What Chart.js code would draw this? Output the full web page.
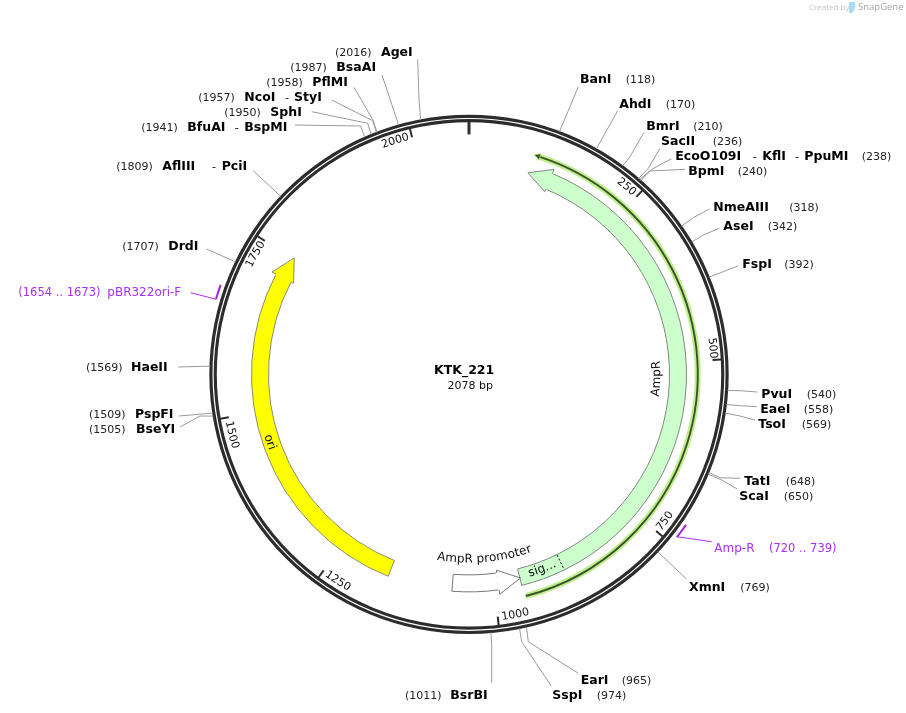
<!DOCTYPE html>
<html>
<head>
<meta charset="utf-8">
<style>html,body{margin:0;padding:0;background:#fff}canvas{display:block}</style>
<script src="https://cdn.jsdelivr.net/npm/chart.js@4/dist/chart.umd.min.js"></script>
</head>
<body>
<canvas id="c" width="906" height="713"></canvas>
<script>
// ---- plasmid data (base pairs) ----
const plasmidName = "KTK_221";
const plasmidLength = 2078;
const tickPositions = [0, 250, 500, 750, 1000, 1250, 1500, 1750, 2000];
const tickLabelCentres = [null, 231, 484, 732, 976, 1226, 1476, 1728, 1977];

// feature ring, consecutive segments in bp
const segmentNames = ["", "AmpR", "sig...", "", "AmpR promoter", "", "ori", ""];
const segmentLengths = [130, 759, 69, 35, 72, 100, 552, 361];
const segmentColours = ["transparent", "#ccffcc", "#ccffcc", "transparent", "#ffffff", "transparent", "#ffff00", "transparent"];
const segmentEdges = ["transparent", "#858585", "#858585", "transparent", "#777777", "transparent", "#8a8a7a", "transparent"];

// long thin feature (gap, length, rest)
const thinFeature = [103, 853, 1122];
// primers (gap, Amp-R, gap, pBR322ori-F, rest)
const primerSegments = [720, 19, 915, 19, 405];

const siteNames = [
  ["BanI"], ["AhdI"], ["BmrI"], ["SacII"], ["EcoO109I", "-", "KflI", "-", "PpuMI"], ["BpmI"],
  ["NmeAIII"], ["AseI"], ["FspI"], ["PvuI"], ["EaeI"], ["TsoI"], ["TatI"], ["ScaI"], ["XmnI"],
  ["EarI"], ["SspI"], ["BsrBI"], ["BseYI"], ["PspFI"], ["HaeII"], ["DrdI"], ["AflIII", "-", "PciI"],
  ["BfuAI", "-", "BspMI"], ["SphI"], ["NcoI", "-", "StyI"], ["PflMI"], ["BsaAI"], ["AgeI"]
];
const sitePositions = [118, 170, 210, 236, 238, 240, 318, 342, 392, 540, 558, 569, 648, 650, 769,
  965, 974, 1011, 1505, 1509, 1569, 1707, 1809, 1941, 1950, 1957, 1958, 1987, 2016];

// ---- label layout (page pixels), separate from the data ----
const nameXs = [[580],[619.3],[646.3],[661],[675.3,752.7,762.3,795,804.3],[688.3],[713.3],[723.3],[742.3],
  [761.3],[760.3],[758.3],[744.3],[739.3],[689],[580.7],[552.3],[450.3],[136],[135],[131],[168.3],
  [162.3,212,221.7],[187.3,234.7,244.3],[270.3],[244.3,285,294],[312.3],[336.3],[381]];
const numberXs = [625.7,665.7,693.3,712.7,861.7,737.7,789.3,767.7,784.3,806.7,803.7,801.7,785.7,783.7,740.3,
  621.7,596.7,405,89,89,86,122.3,116.3,141.3,224.3,198.3,266.3,290.3,335];
const labelYs = [78.7,104,125.7,141,155.7,170.7,206.7,225.7,264,393.7,408.7,424,481,496,587,
  680,695,695,429,414,367,245.7,165.7,126.7,111.7,96.7,81.7,66.7,51.7];
const leaderEnds = [[578.3,86.7],[617.7,110.7],[644,132.3],[660,148.3],[671.7,158.7],[685,169.3],[709.3,209],
  [719.3,228.3],[738.3,265.7],[757.3,392],[756.7,406.7],[755,420],[740,478.3],[737.3,489],[686.7,579.3],
  [578.3,673.3],[551,685.7],[491.7,682.7],[180,427],[179,416],[178,367],[206.7,249],[253.3,170.7],
  [295,125],[311.7,111.7],[331.7,100],[354,87.3],[382,75],[417.7,59.3]];
const leaderElbows = [null,null,[630,156.7],[648.3,168.3],[651.7,169.3],[650,171],[693.3,217.7],[703.3,235],
  [721.7,272.3],[740,390.7],[740,405.7],[740,416],[720,477.7],[721.7,480],null,[528.3,641.7],[521.7,641.7],
  [491.7,645],[200,416],null,null,null,null,[360.7,126],[367.7,123.3],[372.7,120.7],[373,120],null,[419,100]];

const GREY_LINE = "#9a9a9a", DARK = "#2c2c2c", PURPLE = "#a92eff";
const SANS = '"DejaVu Sans", Verdana, sans-serif';
const TEXT_DY = 1;

function spacer(w){ return {data:[1], backgroundColor:"transparent", weight:w}; }
function solid(col,w){ return {data:[plasmidLength], backgroundColor:col, weight:w}; }

const mapPlugin = {
  id: "mapPlugin",
  afterDraw(chart) {
    const ctx = chart.ctx;
    const a = chart.getDatasetMeta(0).data[0];
    const cx = a.x, cy = a.y;
    const th = bp => bp / plasmidLength * 2 * Math.PI;
    const pol = (bp, r) => [cx + r * Math.sin(th(bp)), cy - r * Math.cos(th(bp))];
    const line = (pts, col, w, dash) => {
      ctx.save(); ctx.beginPath();
      pts.forEach((p, i) => i ? ctx.lineTo(p[0], p[1]) : ctx.moveTo(p[0], p[1]));
      ctx.strokeStyle = col; ctx.lineWidth = w; ctx.lineJoin = "round";
      if (dash) ctx.setLineDash(dash);
      ctx.stroke(); ctx.restore();
    };
    const poly = (pts, col) => {
      ctx.beginPath();
      pts.forEach((p, i) => i ? ctx.lineTo(p[0], p[1]) : ctx.moveTo(p[0], p[1]));
      ctx.closePath(); ctx.fillStyle = col; ctx.fill();
    };
    const text = (s, x, y, font, col) => {
      ctx.font = font; ctx.fillStyle = col; ctx.textAlign = "left"; ctx.textBaseline = "middle";
      ctx.fillText(s, x, y + TEXT_DY);
    };
    const curved = (s, bpc, r, font, clockwise) => {
      ctx.save();
      ctx.font = font; ctx.fillStyle = "#111"; ctx.textAlign = "center"; ctx.textBaseline = "middle";
      const W = ctx.measureText(s).width;
      const dir = clockwise ? 1 : -1;
      const c = th(bpc);
      for (let i = 0; i < s.length; i++) {
        const w0 = ctx.measureText(s.slice(0, i)).width;
        const w1 = ctx.measureText(s.slice(0, i + 1)).width;
        const t = c + dir * (((w0 + w1) / 2 - W / 2) / r);
        ctx.save();
        ctx.translate(cx + r * Math.sin(t), cy - r * Math.cos(t));
        ctx.rotate(clockwise ? t : t - Math.PI);
        ctx.fillText(s[i], 0, 0);
        ctx.restore();
      }
      ctx.restore();
    };
    const head = (baseBp, tipBp, colour, edge) => {
      const step = baseBp > tipBp ? 1.5 : -1.5;
      const rOut = 217.5, rIn = 200.5;
      poly([pol(baseBp + step, rOut), pol(baseBp, 222), pol(tipBp, 210), pol(baseBp, 197.7), pol(baseBp + step, rIn)], colour);
      line([pol(baseBp, rOut), pol(baseBp, 222), pol(tipBp, 210), pol(baseBp, 197.7), pol(baseBp, rIn)], edge, 1);
    };

    // tick marks and their labels
    tickPositions.forEach((bp, i) => {
      line([pol(bp, 252.5), pol(bp, i === 0 ? 240 : 244)], DARK, i === 0 ? 3 : 2);
      if (tickLabelCentres[i] !== null) {
        curved(String(bp), tickLabelCentres[i], 245, "11px " + SANS, bp < 400 || bp >= 1700 || bp === 500);
      }
    });

    // dark centre line of the thin feature, then arrow heads
    ctx.save();
    ctx.beginPath();
    ctx.arc(cx, cy, 228.8, th(thinFeature[0]) - Math.PI / 2, th(thinFeature[0] + thinFeature[1]) - Math.PI / 2);
    ctx.strokeStyle = "#3d4f2d"; ctx.lineWidth = 1.9; ctx.stroke();
    ctx.restore();
    head(130, 94, "#ccffcc", "#858585");
    head(993, 957, "#ffffff", "#777777");
    head(1717, 1753, "#ffff00", "#8a8a7a");
    poly([pol(105, 233), pol(94, 229.4), pol(105, 224.8)], "#bdf08a");
    poly([pol(104, 231.5), pol(96.5, 229), pol(104, 226.3)], "#3d4f2d");

    // boundary between the signal peptide and the AmpR body
    const boundary = 889;
    line([pol(boundary, 201), pol(boundary, 217)], "#ccffcc", 1.5);
    line([pol(boundary, 201), pol(boundary, 217)], "#111", 1, [2, 2]);

    // feature labels
    curved("AmpR", 527, 188, "12px " + SANS, false);
    curved("ori", 1450, 210.5, "12px " + SANS, false);
    curved("sig...", 920, 208, "12px " + SANS, false);
    curved("AmpR promoter", 1011, 185, "12px " + SANS, false);

    // enzyme sites
    siteNames.forEach((parts, i) => {
      const pts = [pol(sitePositions[i], 259)];
      if (leaderElbows[i]) pts.push(leaderElbows[i]);
      pts.push(leaderEnds[i]);
      line(pts, GREY_LINE, 1);
      parts.forEach((p, j) => {
        text(p, nameXs[i][j], labelYs[i], (p === "-" ? "" : "bold ") + (p === "-" ? "11px " : "12.5px ") + SANS, "#000");
      });
      text("(" + sitePositions[i] + ")", numberXs[i], labelYs[i], "11px " + SANS, "#222");
    });

    // primers
    line([pol(739, 263.5), [711.7, 541.7]], PURPLE, 1);
    line([pol(1654, 264), [190.7, 292.7]], PURPLE, 1);
    text("Amp-R", 714.3, 547.7, "12px " + SANS, PURPLE);
    text("(720 .. 739)", 769, 547.7, "11.5px " + SANS, PURPLE);
    text("(1654 .. 1673)", 18.3, 292, "11.5px " + SANS, PURPLE);
    text("pBR322ori-F", 107.3, 292, "12px " + SANS, PURPLE);

    // centre
    text(plasmidName, 434, 370, "bold 12.5px " + SANS, "#000");
    text(plasmidLength + " bp", 447.5, 385, "11px " + SANS, "#111");

    // credit
    text("Created by", 809, 6.5, '8px "Open Sans", sans-serif', "#c4c4c4");
    text("SnapGene", 858, 6.5, '9.5px "Open Sans", sans-serif', "#a6a6a6");
    ctx.beginPath();
    ctx.moveTo(849, 2); ctx.lineTo(855, 2); ctx.quadraticCurveTo(856.5, 8, 852, 13);
    ctx.lineTo(849, 13); ctx.closePath();
    ctx.fillStyle = "#a9dcf5"; ctx.fill();
  }
};

new Chart(document.getElementById("c"), {
  type: "doughnut",
  data: {
    labels: segmentNames,
    datasets: [
      {data: primerSegments, backgroundColor: ["transparent", "#a020f0", "transparent", "#a020f0", "transparent"], weight: 2},
      spacer(3.3),
      solid(DARK, 3.2),
      spacer(1.2),
      solid(DARK, 3.1),
      spacer(20.4),
      {data: thinFeature, backgroundColor: ["transparent", "#bdf08a", "transparent"], weight: 6},
      spacer(8.3),
      {data: segmentLengths, backgroundColor: segmentColours, borderColor: segmentEdges, borderWidth: 1, weight: 17},
      spacer(5.5)
    ]
  },
  options: {
    responsive: false,
    animation: false,
    events: [],
    cutout: 195,
    layout: {padding: {left: 204, right: 172, top: 109.4, bottom: 73.6}},
    elements: {arc: {borderWidth: 0, hoverBorderWidth: 0, borderAlign: "center"}},
    plugins: {legend: {display: false}, tooltip: {enabled: false}, title: {display: false}}
  },
  plugins: [mapPlugin]
});
</script>
</body>
</html>
